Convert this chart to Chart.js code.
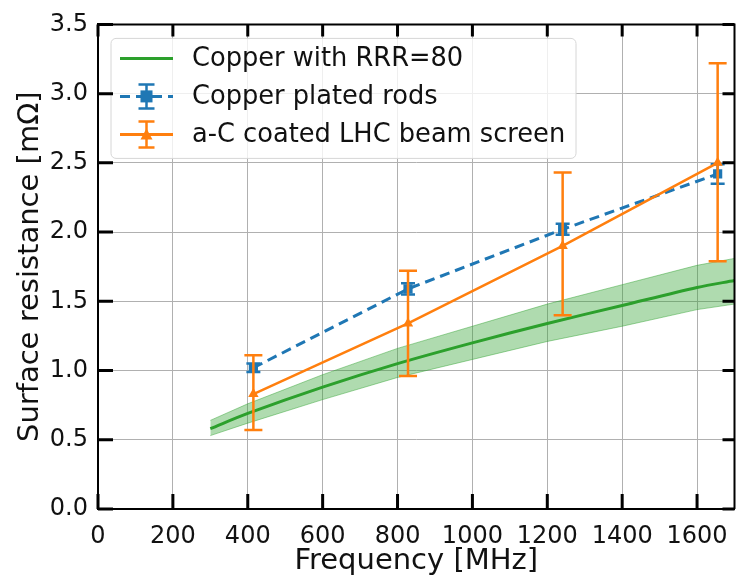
<!DOCTYPE html>
<html>
<head>
<meta charset="utf-8">
<script src="https://cdn.jsdelivr.net/npm/chart.js@4/dist/chart.umd.min.js"></script>
<style>
  html, body { margin: 0; padding: 0; background: #fff; }
</style>
</head>
<body>
<canvas id="chart" width="741" height="575"></canvas>
<script>
// Copper with RRR=80 (model curve and its band)
const freqModel = [300, 400, 600, 800, 1000, 1200, 1400, 1600, 1700];
const rsModel = [0.58, 0.69, 0.88, 1.05, 1.20, 1.34, 1.47, 1.60, 1.65];
const rsModelLow = [0.53, 0.62, 0.79, 0.95, 1.08, 1.21, 1.32, 1.44, 1.48];
const rsModelHigh = [0.64, 0.76, 0.97, 1.16, 1.32, 1.48, 1.62, 1.76, 1.81];

// measurements
const freqMeas = [415, 828, 1241, 1655];
const rsRods = [1.02, 1.59, 2.02, 2.42];
const rsRodsLow = [0.99, 1.55, 1.98, 2.35];
const rsRodsHigh = [1.05, 1.63, 2.06, 2.49];
const rsCoated = [0.83, 1.34, 1.90, 2.50];
const rsCoatedLow = [0.57, 0.96, 1.40, 1.79];
const rsCoatedHigh = [1.11, 1.72, 2.43, 3.22];

const xTicks = [0, 200, 400, 600, 800, 1000, 1200, 1400, 1600];
const yTicks = [0, 0.5, 1.0, 1.5, 2.0, 2.5, 3.0, 3.5];

const GREEN = "#2ca02c";
const BLUE = "#1f77b4";
const ORANGE = "#ff7f0e";

Chart.defaults.font.family = "'DejaVu Sans', sans-serif";
Chart.defaults.color = "#111";

function pts(xs, ys) {
  return xs.map((x, i) => ({ x: x, y: ys[i] }));
}

// error bars, drawn under each dataset's line and markers
const errorBars = {
  id: "errorBars",
  beforeDatasetDraw(chart, args) {
    const ds = chart.data.datasets[args.index];
    if (!ds.errLow) return;
    const xs = chart.scales.x, ys = chart.scales.y;
    const ctx = chart.ctx;
    ctx.save();
    ctx.strokeStyle = ds.borderColor;
    ctx.lineWidth = ds.errWidth;
    ds.data.forEach((p, i) => {
      const px = xs.getPixelForValue(p.x);
      const lo = ys.getPixelForValue(ds.errLow[i]);
      const hi = ys.getPixelForValue(ds.errHigh[i]);
      ctx.beginPath();
      ctx.moveTo(px, lo);
      ctx.lineTo(px, hi);
      ctx.moveTo(px - ds.capSize, lo);
      ctx.lineTo(px + ds.capSize, lo);
      ctx.moveTo(px - ds.capSize, hi);
      ctx.lineTo(px + ds.capSize, hi);
      ctx.stroke();
    });
    ctx.restore();
  },
};

// matplotlib style legend box
const mplLegend = {
  id: "mplLegend",
  afterDatasetsDraw(chart) {
    const ctx = chart.ctx;
    const ca = chart.chartArea;
    const left = ca.left + 13, top = ca.top + 14, w = 465, h = 120;
    ctx.save();
    ctx.beginPath();
    ctx.roundRect(left, top, w, h, 5);
    ctx.fillStyle = "rgba(255,255,255,0.8)";
    ctx.fill();
    ctx.strokeStyle = "#d6d6d6";
    ctx.lineWidth = 1;
    ctx.stroke();

    const x0 = left + 9, x1 = left + 62, xm = (x0 + x1) / 2;
    const rows = [top + 20, top + 58, top + 96];

    // green line
    ctx.strokeStyle = GREEN;
    ctx.lineWidth = 3;
    ctx.beginPath();
    ctx.moveTo(x0, rows[0]);
    ctx.lineTo(x1, rows[0]);
    ctx.stroke();

    // blue dashed + error bar + square
    ctx.strokeStyle = BLUE;
    ctx.setLineDash([10, 6]);
    ctx.beginPath();
    ctx.moveTo(x0, rows[1]);
    ctx.lineTo(x1, rows[1]);
    ctx.stroke();
    ctx.setLineDash([]);
    ctx.lineWidth = 2.5;
    ctx.beginPath();
    ctx.moveTo(xm, rows[1] - 12);
    ctx.lineTo(xm, rows[1] + 12);
    ctx.moveTo(xm - 8, rows[1] - 12);
    ctx.lineTo(xm + 8, rows[1] - 12);
    ctx.moveTo(xm - 8, rows[1] + 12);
    ctx.lineTo(xm + 8, rows[1] + 12);
    ctx.stroke();
    ctx.fillStyle = BLUE;
    ctx.fillRect(xm - 6, rows[1] - 6, 12, 12);

    // orange line + error bar + triangle
    ctx.strokeStyle = ORANGE;
    ctx.lineWidth = 3;
    ctx.beginPath();
    ctx.moveTo(x0, rows[2]);
    ctx.lineTo(x1, rows[2]);
    ctx.stroke();
    ctx.lineWidth = 2.5;
    ctx.beginPath();
    ctx.moveTo(xm, rows[2] - 13);
    ctx.lineTo(xm, rows[2] + 13);
    ctx.moveTo(xm - 8, rows[2] - 13);
    ctx.lineTo(xm + 8, rows[2] - 13);
    ctx.moveTo(xm - 8, rows[2] + 13);
    ctx.lineTo(xm + 8, rows[2] + 13);
    ctx.stroke();
    ctx.fillStyle = ORANGE;
    ctx.beginPath();
    ctx.moveTo(xm, rows[2] - 6);
    ctx.lineTo(xm + 6, rows[2] + 5);
    ctx.lineTo(xm - 6, rows[2] + 5);
    ctx.closePath();
    ctx.fill();

    ctx.fillStyle = "#111";
    ctx.font = "25.7px 'DejaVu Sans'";
    ctx.textBaseline = "middle";
    const labels = ["Copper with RRR=80", "Copper plated rods", "a-C coated LHC beam screen"];
    labels.forEach((t, i) => ctx.fillText(t, left + 81, rows[i] + 1));
    ctx.restore();
  },
};

// top/right spines and inward ticks on all sides
const frame = {
  id: "frame",
  afterDraw(chart) {
    const ctx = chart.ctx;
    const ca = chart.chartArea;
    const xs = chart.scales.x, ys = chart.scales.y;
    ctx.save();
    ctx.strokeStyle = "#000";
    ctx.lineWidth = 2;
    ctx.beginPath();
    ctx.moveTo(ca.left, ca.top);
    ctx.lineTo(ca.right, ca.top);
    ctx.lineTo(ca.right, ca.bottom);
    ctx.stroke();
    ctx.lineWidth = 3;
    ctx.beginPath();
    xTicks.forEach((v) => {
      const px = xs.getPixelForValue(v);
      ctx.moveTo(px, ca.bottom);
      ctx.lineTo(px, ca.bottom - 15);
      ctx.moveTo(px, ca.top);
      ctx.lineTo(px, ca.top + 12);
    });
    yTicks.forEach((v) => {
      const py = ys.getPixelForValue(v);
      ctx.moveTo(ca.left, py);
      ctx.lineTo(ca.left + 15, py);
      ctx.moveTo(ca.right, py);
      ctx.lineTo(ca.right - 12, py);
    });
    ctx.stroke();
    ctx.restore();
  },
};

new Chart(document.getElementById("chart"), {
  type: "line",
  data: {
    datasets: [
      {
        data: pts(freqModel, rsModelLow),
        borderColor: "rgba(44,160,44,0.45)",
        borderWidth: 1,
        pointRadius: 0,
        fill: false,
        order: 6,
      },
      {
        data: pts(freqModel, rsModelHigh),
        borderColor: "rgba(44,160,44,0.45)",
        backgroundColor: "rgba(44,160,44,0.38)",
        borderWidth: 1,
        pointRadius: 0,
        fill: "-1",
        order: 5,
      },
      {
        label: "Copper with RRR=80",
        data: pts(freqModel, rsModel),
        borderColor: GREEN,
        borderWidth: 3,
        pointRadius: 0,
        tension: 0.3,
        order: 4,
      },
      {
        label: "Copper plated rods",
        data: pts(freqMeas, rsRods),
        errLow: rsRodsLow,
        errHigh: rsRodsHigh,
        errWidth: 2.5,
        capSize: 7,
        borderColor: BLUE,
        backgroundColor: BLUE,
        borderWidth: 3,
        borderDash: [10, 6],
        pointStyle: "rect",
        pointRadius: 6.5,
        pointBorderWidth: 0,
        order: 3,
      },
      {
        label: "a-C coated LHC beam screen",
        data: pts(freqMeas, rsCoated),
        errLow: rsCoatedLow,
        errHigh: rsCoatedHigh,
        errWidth: 2.5,
        capSize: 9,
        borderColor: ORANGE,
        backgroundColor: ORANGE,
        borderWidth: 2.5,
        pointStyle: "triangle",
        pointRadius: 6,
        pointBorderWidth: 0,
        order: 2,
      },
    ],
  },
  options: {
    responsive: false,
    animation: false,
    devicePixelRatio: 1,
    layout: { padding: { top: 23, right: 6, left: 0, bottom: 0 } },
    plugins: { legend: { display: false }, tooltip: { enabled: false } },
    scales: {
      x: {
        type: "linear",
        min: 0,
        max: 1700,
        afterFit: (s) => { s.height = 66; },
        ticks: {
          stepSize: 200,
          includeBounds: false,
          autoSkip: false,
          maxRotation: 0,
          padding: 13,
          font: { size: 24 },
          callback: (v) => String(v),
        },
        grid: { color: "#b0b0b0", lineWidth: 1, drawTicks: false },
        border: { color: "#000", width: 2 },
        title: {
          display: true,
          text: "Frequency [MHz]",
          font: { size: 29, lineHeight: 0.9 },
          padding: { top: 0, bottom: 0 },
        },
      },
      y: {
        min: 0,
        max: 3.5,
        afterFit: (s) => { s.width = 98; },
        ticks: {
          stepSize: 0.5,
          padding: 10,
          font: { size: 24 },
          callback: (v) => v.toFixed(1),
        },
        grid: { color: "#b0b0b0", lineWidth: 1, drawTicks: false },
        border: { color: "#000", width: 2 },
        title: {
          display: true,
          text: "Surface resistance [mΩ]",
          font: { size: 29 },
          padding: { top: 13, bottom: 0 },
        },
      },
    },
  },
  plugins: [errorBars, mplLegend, frame],
});
</script>
</body>
</html>
